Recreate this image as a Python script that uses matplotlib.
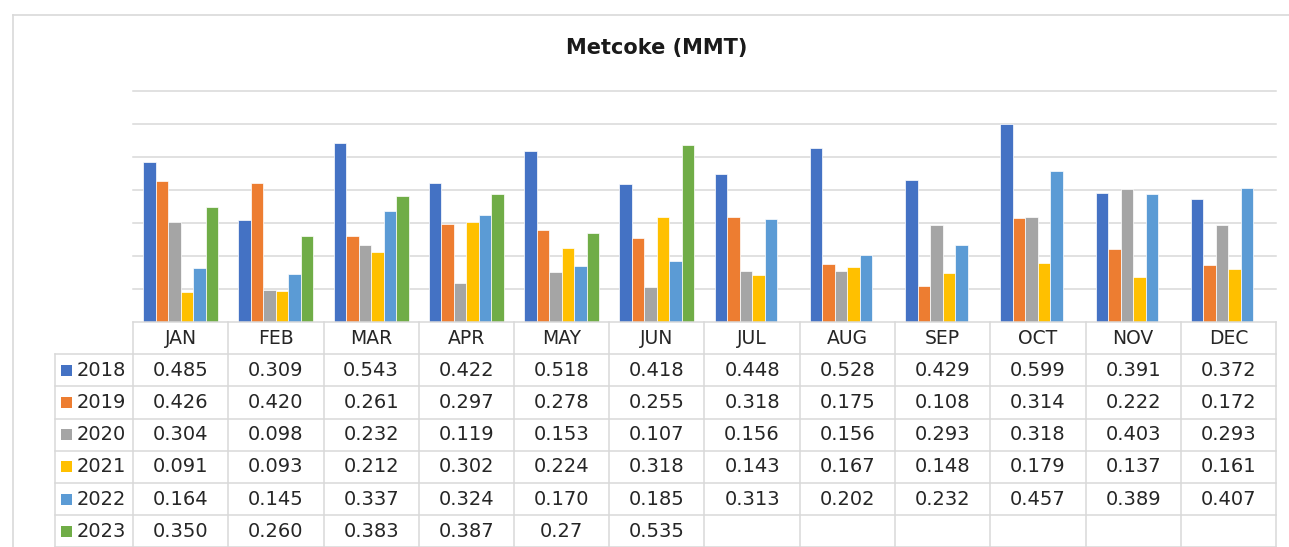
import matplotlib.pyplot as plt
import numpy as np
from matplotlib.patches import Rectangle
from matplotlib.lines import Line2D

months = ['JAN', 'FEB', 'MAR', 'APR', 'MAY', 'JUN',
          'JUL', 'AUG', 'SEP', 'OCT', 'NOV', 'DEC']
years = ['2018', '2019', '2020', '2021', '2022', '2023']

v2018 = [0.485, 0.309, 0.543, 0.422, 0.518, 0.418, 0.448, 0.528, 0.429, 0.599, 0.391, 0.372]
v2019 = [0.426, 0.420, 0.261, 0.297, 0.278, 0.255, 0.318, 0.175, 0.108, 0.314, 0.222, 0.172]
v2020 = [0.304, 0.098, 0.232, 0.119, 0.153, 0.107, 0.156, 0.156, 0.293, 0.318, 0.403, 0.293]
v2021 = [0.091, 0.093, 0.212, 0.302, 0.224, 0.318, 0.143, 0.167, 0.148, 0.179, 0.137, 0.161]
v2022 = [0.164, 0.145, 0.337, 0.324, 0.170, 0.185, 0.313, 0.202, 0.232, 0.457, 0.389, 0.407]
v2023 = [0.350, 0.260, 0.383, 0.387, 0.27, 0.535]
# 2023 May is printed with two decimals in the source table
labels_2023 = ['0.350', '0.260', '0.383', '0.387', '0.27', '0.535']

colors = ['#4472C4', '#ED7D31', '#A5A5A5', '#FFC000', '#5B9BD5', '#70AD47']
grid_c = '#D9D9D9'
text_c = '#262626'

W, H = 1289, 547


def fbox(x0, y0, x1, y1):
    # pixel box (top-left origin) -> figure fraction rect
    return [x0 / W, 1 - y1 / H, (x1 - x0) / W, (y1 - y0) / H]


fig = plt.figure(figsize=(W / 100, H / 100), dpi=100)
fig.patch.set_facecolor('white')

# outer chart frame (only top and left edges are visible)
fig.add_artist(Line2D([13 / W, 1.0], [1 - 15 / H] * 2, transform=fig.transFigure,
                      color=grid_c, linewidth=1.2))
fig.add_artist(Line2D([13 / W] * 2, [0, 1 - 15 / H], transform=fig.transFigure,
                      color=grid_c, linewidth=1.2))

fig.text(657 / W, 1 - 48 / H, 'Metcoke (MMT)', ha='center', va='center',
         fontsize=15, fontweight='bold', color='#1a1a1a')

series = [v2018, v2019, v2020, v2021, v2022, v2023]
all_labels = [['%.3f' % v for v in s] for s in series[:5]] + [labels_2023]

# bars
ax = fig.add_axes(fbox(133, 91, 1276, 322))
bw = 0.131
x = np.arange(len(months))
for j, (s, c) in enumerate(zip(series, colors)):
    vals = np.full(len(months), np.nan)
    vals[:len(s)] = s
    ax.bar(x + (j - 2.5) * bw, vals, width=bw, color=c,
           edgecolor='white', linewidth=0.5, zorder=3)
ax.set_xlim(-0.5, 11.5)
ax.set_ylim(0, 0.7)
ax.set_yticks(np.arange(0.1, 0.71, 0.1))
ax.yaxis.grid(True, color=grid_c, linewidth=1.1)
for gl in ax.get_ygridlines():
    gl.set_clip_on(False)
ax.set_axisbelow(True)
ax.tick_params(left=False, bottom=False, labelleft=False, labelbottom=False)
for sp in ax.spines.values():
    sp.set_visible(False)

# data table
lw_px = 78 / 95.25
tab = fig.add_axes(fbox(55, 322, 1276, 547.4))
tab.set_xlim(-0.5 - lw_px, 11.5)
tab.set_ylim(7, 0)
tab.axis('off')

lk = dict(color=grid_c, linewidth=1.1, clip_on=False)
tab.plot([-0.5, 11.5], [0, 0], **lk)
for r in range(1, 8):
    tab.plot([-0.5 - lw_px, 11.5], [r, r], **lk)
tab.plot([-0.5 - lw_px] * 2, [1, 7], **lk)
for i in range(13):
    tab.plot([i - 0.5] * 2, [0, 7], **lk)

fs = 14
for i, m in enumerate(months):
    tab.text(i, 0.5, m, ha='center', va='center', fontsize=fs - 0.5, color=text_c)

sq_w = 11 / 95.25
sq_h = 11 / 32.2
for r, (yr, c, labs) in enumerate(zip(years, colors, all_labels)):
    yc = r + 1.5
    tab.add_patch(Rectangle((-0.5 - lw_px + 6 / 95.25, yc - sq_h / 2), sq_w, sq_h,
                            facecolor=c, edgecolor='none'))
    tab.text(-0.5 - lw_px + 22 / 95.25, yc, yr, ha='left', va='center',
             fontsize=fs, color=text_c)
    for i, t in enumerate(labs):
        tab.text(i, yc, t, ha='center', va='center', fontsize=fs, color=text_c)

fig.savefig('out.png', dpi=100)
